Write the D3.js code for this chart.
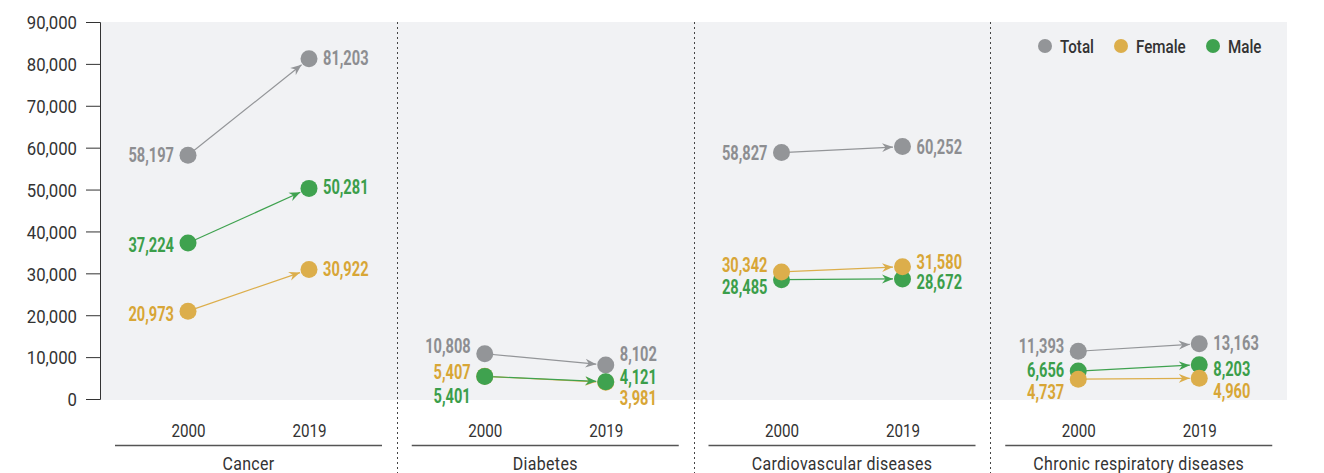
<!DOCTYPE html>
<html>
<head>
<meta charset="utf-8">
<script src="https://cdn.jsdelivr.net/npm/d3@7"></script>
<style>
  html, body { margin: 0; padding: 0; background: #ffffff; }
  svg { display: block; }
  text { font-family: Roboto, 'Liberation Sans', sans-serif; }
</style>
</head>
<body>
<svg id="chart" width="1324" height="473"></svg>
<script>
// ---------------- DATA ----------------
const categories = ["Cancer", "Diabetes", "Cardiovascular diseases", "Chronic respiratory diseases"];
const years = ["2000", "2019"];
const seriesNames = ["Total", "Female", "Male"];
const total2000  = [58197, 10808, 58827, 11393];
const total2019  = [81203,  8102, 60252, 13163];
const female2000 = [20973,  5407, 30342,  4737];
const female2019 = [30922,  3981, 31580,  4960];
const male2000   = [37224,  5401, 28485,  6656];
const male2019   = [50281,  4121, 28672,  8203];
const yTickValues = [0, 10000, 20000, 30000, 40000, 50000, 60000, 70000, 80000, 90000];

// ---------------- LAYOUT / STYLE CONFIG ----------------
const W = 1324, H = 473;
const plotLeft = 100, plotRight = 1287, plotTop = 22, plotBottom = 399;
const colors = { Total: "#939598", Female: "#dcae4b", Male: "#3fa24f" };
const textColors = { Total: "#8d8e91", Female: "#d8a636", Male: "#3b9e4a" };
const dotR = 8.5;
// label vertical nudges in px, per [category][series][year]
const labelNudge = {
  "Cancer":                       { Total: [0, -1], Female: [3, -1], Male: [2, -1] },
  "Diabetes":                     { Total: [-8, -11], Female: [-4, 16], Male: [20, -5] },
  "Cardiovascular diseases":      { Total: [0, 0], Female: [-7, -5], Male: [7, 3] },
  "Chronic respiratory diseases": { Total: [-5, -1], Female: [13, 13], Male: [-1, 4] }
};
// drawing order (last on top)
const drawOrder = {
  "Cancer": ["Total", "Male", "Female"],
  "Diabetes": ["Total", "Female", "Male"],
  "Cardiovascular diseases": ["Total", "Male", "Female"],
  "Chronic respiratory diseases": ["Total", "Male", "Female"]
};

const seriesData = {
  Total:  [total2000, total2019],
  Female: [female2000, female2019],
  Male:   [male2000, male2019]
};

const svg = d3.select("#chart");

// condensed text helper: horizontal squeeze around its anchor point
function condText(parent, x, y, str, o) {
  return parent.append("text")
    .attr("transform", `translate(${x},${y}) scale(${o.sx},1)`)
    .attr("x", 0).attr("y", 0)
    .attr("dy", "0.36em")
    .attr("text-anchor", o.anchor || "start")
    .attr("fill", o.fill)
    .style("font-size", o.size + "px")
    .style("font-weight", o.weight || 400)
    .text(str);
}

const y = d3.scaleLinear().domain([0, 90000]).range([plotBottom, plotTop]);
const xBand = d3.scaleBand().domain(categories).range([plotLeft, plotRight]).paddingInner(0).paddingOuter(0);
const xYear = d3.scalePoint().domain(years).range([88, 209]);

// background
svg.append("rect")
  .attr("x", plotLeft).attr("y", plotTop)
  .attr("width", plotRight - plotLeft).attr("height", plotBottom - plotTop + 1)
  .attr("fill", "#f1f2f4");

// arrow markers
const defs = svg.append("defs");
seriesNames.forEach(s => {
  defs.append("marker")
    .attr("id", "arrow-" + s)
    .attr("viewBox", "0 -5 12 10")
    .attr("refX", 11).attr("refY", 0)
    .attr("markerUnits", "userSpaceOnUse")
    .attr("markerWidth", 12).attr("markerHeight", 10)
    .attr("orient", "auto")
    .append("path")
    .attr("d", "M0,-4.5 L11,0 L0,4.5 L3.5,0 Z")
    .attr("fill", colors[s]);
});

// dotted separators
categories.slice(1).forEach(c => {
  const xs = Math.round(xBand(c)) + 0.5;
  svg.append("line")
    .attr("x1", xs).attr("x2", xs)
    .attr("y1", plotTop).attr("y2", H)
    .attr("stroke", "#444").attr("stroke-width", 1)
    .attr("stroke-dasharray", "2,3");
});

// y axis
const yAxis = d3.axisLeft(y).tickValues(yTickValues).tickFormat(d3.format(",")).tickSize(14).tickPadding(9);
const gy = svg.append("g").attr("transform", `translate(${plotLeft},0)`).call(yAxis);
gy.select(".domain").attr("stroke", "#333").attr("d", `M-14,${plotTop + 0.5}H0.5V${plotBottom + 0.5}H-14`);
gy.selectAll(".tick line").attr("stroke", "#333");
gy.selectAll(".tick text")
  .attr("fill", "#333")
  .style("font-size", "19px")
  .style("font-family", "Roboto, sans-serif")
  .each(function() {
    const t = d3.select(this);
    const x = +t.attr("x");
    t.attr("x", 0).attr("dy", "0.36em").attr("transform", `translate(${x},0) scale(0.88,1)`);
  });

// panels
categories.forEach((cat, ci) => {
  const x0 = xBand(cat);
  const g = svg.append("g").attr("transform", `translate(${x0},0)`);

  // year labels (axis)
  const xAxis = d3.axisBottom(xYear).tickSize(0).tickPadding(0);
  const gx = g.append("g").attr("transform", `translate(0,${plotBottom})`).call(xAxis);
  gx.select(".domain").remove();
  gx.selectAll(".tick text")
    .attr("fill", "#333")
    .attr("y", 0)
    .attr("dy", "0.36em")
    .attr("transform", "translate(0,31) scale(0.8,1)")
    .style("font-size", "19px")
    .style("font-family", "Roboto, sans-serif");

  // rule
  g.append("line")
    .attr("x1", 15).attr("x2", 282)
    .attr("y1", 445.5).attr("y2", 445.5)
    .attr("stroke", "#555").attr("stroke-width", 1.3);

  // category label
  condText(g, (15 + 282) / 2, 463, cat, { anchor: "middle", size: 19, weight: 400, fill: "#333", sx: 0.84 })
    .style("letter-spacing", "0.4px");

  // arrows
  drawOrder[cat].forEach(s => {
    const v0 = seriesData[s][0][ci], v1 = seriesData[s][1][ci];
    const ax = xYear(years[0]), ay = y(v0);
    const bx = xYear(years[1]), by = y(v1);
    const dx = bx - ax, dy = by - ay, len = Math.hypot(dx, dy);
    const ex = bx - dx / len * (dotR + 1), ey = by - dy / len * (dotR + 1);
    g.append("line")
      .attr("x1", ax).attr("y1", ay).attr("x2", ex).attr("y2", ey)
      .attr("stroke", colors[s]).attr("stroke-width", 1.2)
      .attr("marker-end", `url(#arrow-${s})`);
  });
  // dots
  drawOrder[cat].forEach(s => {
    years.forEach((yr, yi) => {
      const v = seriesData[s][yi][ci];
      g.append("circle")
        .attr("cx", xYear(yr)).attr("cy", y(v)).attr("r", dotR)
        .attr("fill", colors[s]);
    });
  });
  // value labels
  seriesNames.forEach(s => {
    years.forEach((yr, yi) => {
      const v = seriesData[s][yi][ci];
      const left = yi === 0;
      condText(g, xYear(yr) + (left ? -14 : 14), y(v) + labelNudge[cat][s][yi], d3.format(",")(v),
        { anchor: left ? "end" : "start", size: 19.5, weight: 700, fill: textColors[s], sx: 0.75 });
    });
  });
});

// legend
const legendItems = [
  { name: "Total", cx: 1045, tx: 1060 },
  { name: "Female", cx: 1121, tx: 1136 },
  { name: "Male", cx: 1213, tx: 1228 }
];
const lg = svg.append("g");
legendItems.forEach(it => {
  lg.append("circle").attr("cx", it.cx).attr("cy", 46).attr("r", 7).attr("fill", colors[it.name]);
  condText(lg, it.tx, 46, it.name, { anchor: "start", size: 19, weight: 500, fill: "#333", sx: 0.8 });
});
</script>
</body>
</html>
